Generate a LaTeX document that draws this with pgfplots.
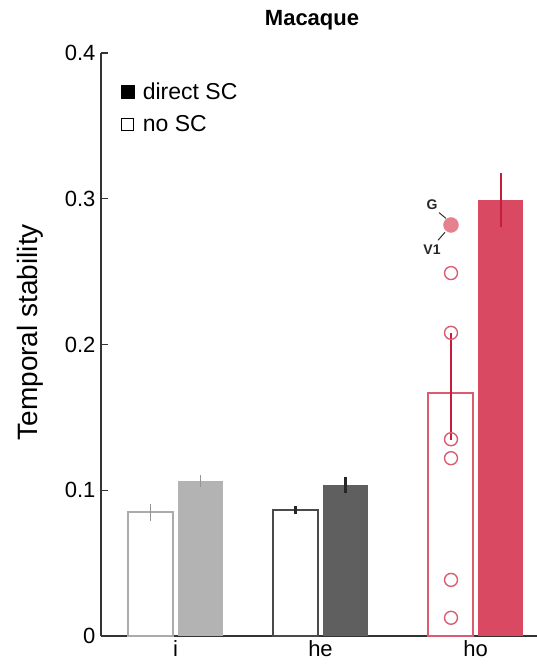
\documentclass[border=0pt]{standalone}
\usepackage{pgfplots}
\pgfplotsset{compat=1.18}
\usepackage{fontspec}
\setmainfont{Liberation Sans}
\definecolor{lgray}{HTML}{B3B3B3}
\definecolor{lgrayline}{HTML}{ABABAB}
\definecolor{lgrayerr}{HTML}{959595}
\definecolor{dgray}{HTML}{5F5F5F}
\definecolor{dgrayline}{HTML}{4A4A4A}
\definecolor{hored}{HTML}{D94A62}
\definecolor{horedline}{HTML}{DB5C70}
\definecolor{errred}{HTML}{C41E3A}
\definecolor{gpink}{HTML}{E5808E}
\begin{document}
\begin{tikzpicture}
\useasboundingbox (-101pt,-35pt) rectangle (436pt,636pt);
\begin{axis}[
  scale only axis, width=436pt, height=583pt,
  xmin=0, xmax=436, ymin=0, ymax=0.4,
  clip=false,
  axis x line=bottom, axis y line=left,
  axis line style={-, line width=1.6pt, color=black!80},
  ytick={0,0.1,0.2,0.3,0.4}, yticklabels={0,0.1,0.2,0.3,0.4},
  xtick={74.5,219.5,374.5}, xticklabels={i,he,ho},
  tick align=inside, major tick length=7pt,
  ytick style={line width=1.2pt, color=black!80},
  xtick style={draw=none},
  yticklabel style={font=\fontsize{22}{26}\selectfont, xshift=-2pt},
  xticklabel style={font=\fontsize{22}{26}\selectfont, yshift=-1pt},
  ylabel={Temporal stability},
  ylabel style={font=\fontsize{28}{32}\selectfont, at={(axis description cs:-0.163,0.521)}, anchor=center},
  title={\textbf{Macaque}},
  title style={font=\fontsize{22}{26}\selectfont, at={(axis description cs:0.484,1.046)}, anchor=center},
  legend style={at={(axis description cs:0.045,0.95)}, anchor=north west, draw=none, fill=none,
    font=\fontsize{23}{27}\selectfont, row sep=15pt, inner sep=0pt,
    nodes={inner xsep=9pt, inner ysep=0pt}},
  legend cell align=left,
  every axis plot/.append style={forget plot},
  error bars/error bar style={line width=1.6pt},
]
% i group
\addplot[ybar, bar width=45, bar shift=0pt, fill=white, draw=lgrayline, line width=1.8pt,
  error bars/.cd, y dir=both, y explicit, error mark=none, error bar style={lgrayerr, line width=1.8pt}]
  coordinates {(49.5,0.0850) +- (0,0.0058)};
\addplot[ybar, bar width=45, bar shift=0pt, fill=lgray, draw=none,
  error bars/.cd, y dir=both, y explicit, error mark=none, error bar style={lgrayerr, line width=1.8pt}]
  coordinates {(99.5,0.1063) +- (0,0.0040)};
% he group
\addplot[ybar, bar width=45, bar shift=0pt, fill=white, draw=dgrayline, line width=1.8pt,
  error bars/.cd, y dir=both, y explicit, error mark=none, error bar style={black!85, line width=2.2pt}]
  coordinates {(194.5,0.0864) +- (0,0.0030)};
\addplot[ybar, bar width=45, bar shift=0pt, fill=dgray, draw=none,
  error bars/.cd, y dir=both, y explicit, error mark=none, error bar style={black!85, line width=2.2pt}]
  coordinates {(244.5,0.1036) +- (0,0.0055)};
% ho group
\addplot[ybar, bar width=45, bar shift=0pt, fill=white, draw=horedline, line width=1.6pt]
  coordinates {(349.5,0.1667)};
\addplot[only marks, mark=o, mark size=6.5pt, draw=horedline, mark options={line width=1.4pt}]
  coordinates {(350,0.249) (350,0.208) (350,0.135) (350,0.122) (350,0.0385) (350,0.0125)};
\addplot[draw=none, mark=none,
  error bars/.cd, y dir=both, y explicit, error mark=none, error bar style={errred, line width=2pt}]
  coordinates {(349.5,0.1667) += (0,0.0413) -= (0,0.0322)};
\addplot[only marks, mark=*, mark size=7.5pt, draw=gpink, fill=gpink]
  coordinates {(350,0.282)};
\addplot[ybar, bar width=45, bar shift=0pt, fill=hored, draw=none,
  error bars/.cd, y dir=both, y explicit, error mark=none, error bar style={errred, line width=2pt}]
  coordinates {(399.5,0.2990) +- (0,0.0187)};
% annotations
\node[font=\fontsize{14}{16}\selectfont\bfseries, text=black!85] at (axis cs:331,0.296) {G};
\draw[black!80, line width=1pt] (axis cs:338,0.2905) -- (axis cs:345,0.2865);
\node[font=\fontsize{14}{16}\selectfont\bfseries, text=black!85] at (axis cs:331,0.265) {V1};
\draw[black!80, line width=1pt] (axis cs:337,0.2715) -- (axis cs:344,0.2770);
% legend
\addlegendimage{only marks, mark=square*, mark size=6.5pt, black}
\addlegendentry{direct SC}
\addlegendimage{only marks, mark=square, mark size=6pt, black, mark options={line width=1.5pt}}
\addlegendentry{no SC}
\end{axis}
\end{tikzpicture}
\end{document}
